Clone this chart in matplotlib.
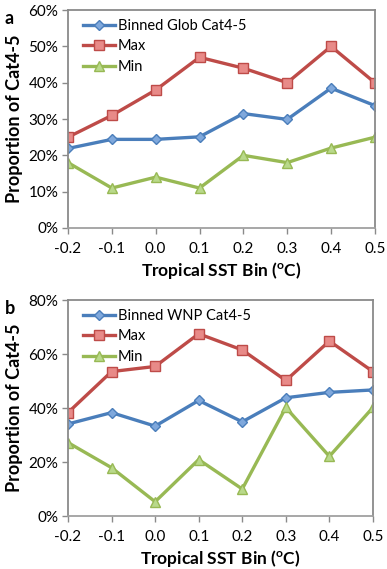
import matplotlib.pyplot as plt
from matplotlib.ticker import PercentFormatter
import numpy as np

plt.rcParams['font.family'] = ['Lato', 'DejaVu Sans']
plt.rcParams['mathtext.fontset'] = 'custom'
plt.rcParams['mathtext.rm'] = 'Lato:bold'
plt.rcParams['mathtext.bf'] = 'Lato:bold'

# data
sst_bins = ["-0.2", "-0.1", "0.0", "0.1", "0.2", "0.3", "0.4", "0.5"]

glob_binned = [21.9, 24.4, 24.4, 25.1, 31.5, 29.9, 38.5, 33.7]
glob_max = [25, 31, 38, 47, 44, 40, 50, 40]
glob_min = [18, 11, 14, 11, 20, 18, 22, 25]

wnp_binned = [34.1, 38.3, 33.3, 42.8, 34.9, 43.8, 45.8, 46.7]
wnp_max = [38.3, 53.5, 55.4, 67.5, 61.5, 50.2, 64.8, 53.5]
wnp_min = [27.2, 17.9, 5.3, 20.9, 10.0, 40.2, 22.1, 40.2]

blue, blue_f = "#4a7ebb", "#7fa8dc"
red, red_f = "#be4b48", "#e88a88"
green, green_f = "#98b954", "#b9d98a"
frame = "#8a8a8a"

fig = plt.figure(figsize=(3.87, 5.69), dpi=100)
ax_a = fig.add_axes([0.1757, 0.5993, 0.793, 0.383])
ax_b = fig.add_axes([0.1757, 0.0931, 0.788, 0.3796])

x = np.arange(len(sst_bins))


def panel(ax, binned, mx, mn, name, ymax, step):
    ax.plot(x, binned, color=blue, lw=2.4, marker="D", ms=5.5,
            mfc=blue_f, mec=blue, mew=1, label=name)
    ax.plot(x, mx, color=red, lw=2.4, marker="s", ms=7,
            mfc=red_f, mec=red, mew=1, label="Max")
    ax.plot(x, mn, color=green, lw=2.4, marker="^", ms=7,
            mfc=green_f, mec=green, mew=1, label="Min")
    ax.set_xlim(0, len(sst_bins) - 1)
    ax.set_ylim(0, ymax)
    ax.set_xticks(x)
    ax.set_xticklabels(sst_bins)
    ax.set_yticks(np.arange(0, ymax + 1, step))
    ax.yaxis.set_major_formatter(PercentFormatter(decimals=0))
    for s in ax.spines.values():
        s.set_color(frame)
        s.set_linewidth(1.3)
    ax.spines['bottom'].set_color("#a0a0a0")
    ax.tick_params(colors=frame, labelcolor="black", labelsize=11,
                   length=4, width=1)
    ax.tick_params(axis='x', pad=6)
    ax.tick_params(axis='y', pad=3)
    ax.set_ylabel("Proportion of Cat4-5", fontsize=13, fontweight="bold",
                  labelpad=4)
    ax.set_xlabel(r"Tropical SST Bin ($^{\mathrm{o}}$C)", fontsize=12.5,
                  fontweight="bold", labelpad=3)
    ax.legend(loc="upper left", frameon=False, fontsize=10.5,
              handlelength=2.2, handletextpad=0.2, labelspacing=0.45,
              borderaxespad=0.2, bbox_to_anchor=(0.02, 1.0))


panel(ax_a, glob_binned, glob_max, glob_min, "Binned Glob Cat4-5", 60, 10)
panel(ax_b, wnp_binned, wnp_max, wnp_min, "Binned WNP Cat4-5", 80, 20)

fig.text(0.012, 0.967, "a", fontsize=13, fontweight="bold", va="center")
fig.text(0.012, 0.458, "b", fontsize=13, fontweight="bold", va="center")

fig.savefig("out.png", dpi=100)
